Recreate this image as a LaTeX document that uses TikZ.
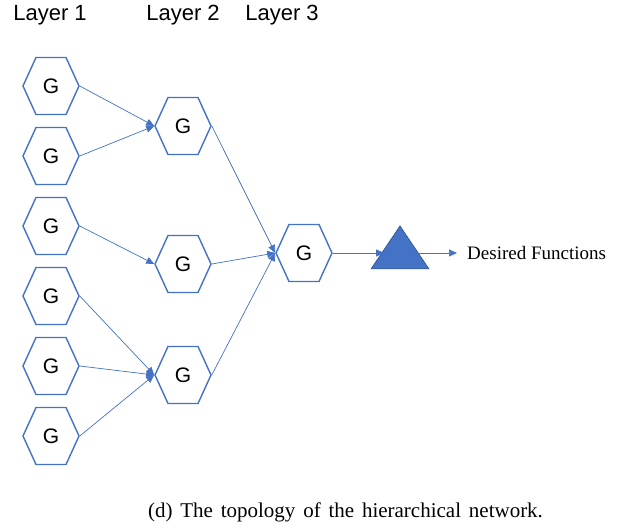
\documentclass[tikz,border=0pt]{standalone}
\usepackage{fontspec}
\setmainfont{Liberation Serif}
\setsansfont{Liberation Sans}
\usetikzlibrary{shapes.symbols, shapes.geometric, arrows.meta}

\definecolor{hexblue}{HTML}{4472C4}
\definecolor{triedge}{HTML}{2F528F}

\tikzset{
  gate/.style={signal, signal to=west and east, signal pointer angle=131,
    draw=hexblue, line width=1.4pt, fill=white, inner sep=0pt,
    minimum width=56pt, minimum height=57pt,
    font=\sffamily\fontsize{21}{23}\selectfont},
  link/.style={draw=hexblue, line width=0.7pt, -{Triangle[length=8pt,width=7pt]}},
  layer/.style={font=\sffamily\fontsize{22}{26}\selectfont}
}

\begin{document}
\begin{tikzpicture}[x=1pt, y=-1pt]
\useasboundingbox[fill=white] (0,0) rectangle (626,529);

\node[layer] (lab1) at (50,15) {Layer 1};
\node[layer] (lab2) at (183,15) {Layer 2};
\node[layer] (lab3) at (282,15) {Layer 3};

% layer 1
\node[gate] (a1) at (51,86) {G};
\node[gate] (a2) at (51,156) {G};
\node[gate] (a3) at (51,226) {G};
\node[gate] (a4) at (51,296) {G};
\node[gate] (a5) at (51,366) {G};
\node[gate] (a6) at (51,436) {G};

% layer 2
\node[gate] (b1) at (183,126) {G};
\node[gate] (b2) at (183,264) {G};
\node[gate] (b3) at (183,375) {G};

% layer 3
\node[gate] (c1) at (304,253) {G};

\node[isosceles triangle, isosceles triangle apex angle=68, shape border rotate=90,
  fill=hexblue, draw=triedge, line width=0.6pt, inner sep=0pt, minimum height=43pt] (tri) at (400,253.5) {};
\node[anchor=west, inner xsep=10pt, font=\fontsize{19}{22}\selectfont] (des) at (457,253) {Desired Functions};

\draw[link] (a1.east) -- (b1.west);
\draw[link] (a2.east) -- (b1.west);
\draw[link] (a3.east) -- (b2.west);
\draw[link] (a4.east) -- (b3.west);
\draw[link] (a5.east) -- (b3.west);
\draw[link] (a6.east) -- (b3.west);

\draw[link] (b1.east) -- (c1.west);
\draw[link] (b2.east) -- (c1.west);
\draw[link] (b3.east) -- (c1.west);

\draw[link, shorten >=1pt] (c1.east) -- (c1.east -| tri.left side);
\draw[link] (c1.east -| tri.right side) -- (des.west);

\node[font=\fontsize{21}{24}\selectfont] (cap) at (345.5,512) {\spaceskip=7.8pt (d) The topology of the hierarchical network.};
\end{tikzpicture}
\end{document}
